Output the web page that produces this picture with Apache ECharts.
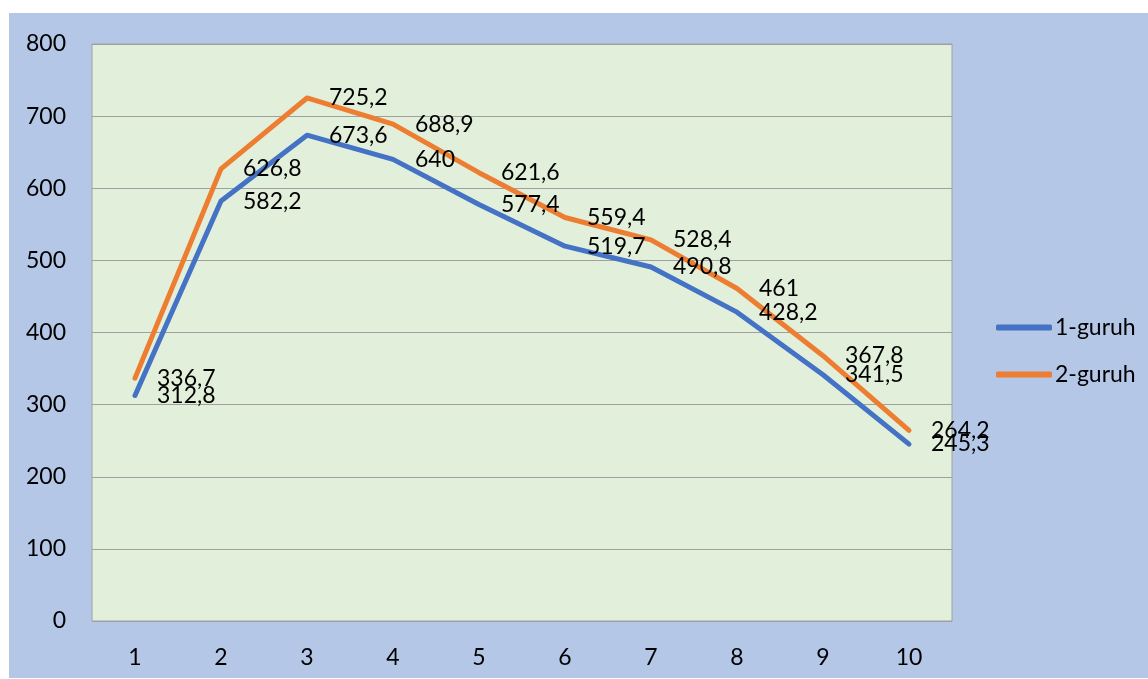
<!DOCTYPE html>
<html>
<head>
<meta charset="utf-8">
<script src="https://cdn.jsdelivr.net/npm/echarts@6/dist/echarts.min.js"></script>
<style>
  html, body { margin: 0; padding: 0; background: #ffffff; }
  #chart { position: absolute; left: 9px; top: 13px; width: 1139px; height: 665px; }
</style>
</head>
<body>
<div id="chart"></div>
<script>
// 数据
const categories = ["1", "2", "3", "4", "5", "6", "7", "8", "9", "10"];
const group1 = [312.8, 582.2, 673.6, 640, 577.4, 519.7, 490.8, 428.2, 341.5, 245.3];
const group2 = [336.7, 626.8, 725.2, 688.9, 621.6, 559.4, 528.4, 461, 367.8, 264.2];
const seriesNames = ["1-guruh", "2-guruh"];

const font = "Lato, 'Open Sans', sans-serif";
const fontSize = 23;

// 数值标签用逗号作小数点
function fmt(p) {
  return String(p.value).replace(".", ",");
}

function makeSeries(name, data, color) {
  return {
    name: name,
    type: "line",
    data: data,
    showSymbol: true,
    symbol: "circle",
    symbolSize: 0,
    lineStyle: { color: color, width: 5, cap: "round", join: "round" },
    itemStyle: { color: color },
    label: {
      show: true,
      position: "right",
      distance: 22,
      formatter: fmt,
      color: "#000",
      fontSize: fontSize,
      fontFamily: font
    }
  };
}

const myChart = echarts.init(document.getElementById("chart"));
myChart.setOption({
  backgroundColor: "#b4c7e7",
  animation: false,
  grid: {
    left: 83, top: 31, right: 196, bottom: 57,
    show: true,
    backgroundColor: "#e2efda",
    borderColor: "#a0a0a0",
    borderWidth: 1
  },
  legend: {
    orient: "vertical",
    left: 982,
    top: 298,
    itemWidth: 56,
    itemHeight: 6,
    itemGap: 24,
    icon: "roundRect",
    textStyle: { color: "#000", fontSize: fontSize, fontFamily: font, padding: [0, 0, 0, -2] },
    data: seriesNames
  },
  xAxis: {
    type: "category",
    data: categories,
    boundaryGap: true,
    axisLine: { show: false },
    axisTick: { show: false },
    axisLabel: { color: "#000", fontSize: fontSize, fontFamily: font, margin: 25 }
  },
  yAxis: {
    type: "value",
    min: 0,
    max: 800,
    interval: 100,
    axisLine: { show: false },
    axisTick: { show: false },
    splitLine: { lineStyle: { color: "#a0a0a0", width: 1 } },
    axisLabel: { color: "#000", fontSize: fontSize, fontFamily: font, margin: 26 }
  },
  series: [
    makeSeries(seriesNames[0], group1, "#4472c4"),
    makeSeries(seriesNames[1], group2, "#ed7d31")
  ]
});
</script>
</body>
</html>
